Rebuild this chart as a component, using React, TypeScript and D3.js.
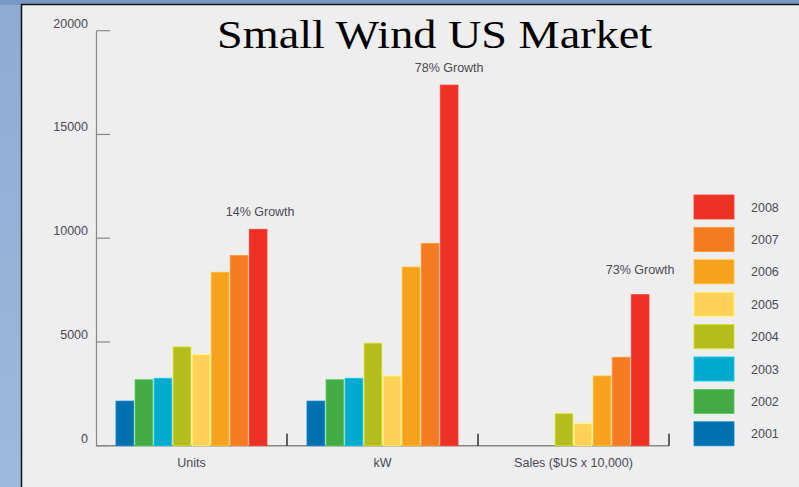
import React from "react";
import * as d3 from "d3";

const categories = ["Units", "kW", "Sales ($US x 10,000)"];
const years = ["2001", "2002", "2003", "2004", "2005", "2006", "2007", "2008"];
const unitsValues = [2150, 3180, 3250, 4760, 4390, 8360, 9160, 10430];
const kwValues = [2150, 3180, 3250, 4940, 3360, 8610, 9750, 17380];
const salesValues = [0, 0, 0, 1540, 1060, 3360, 4260, 7280];
const growthLabels = ["14% Growth", "78% Growth", "73% Growth"];
const yTicks = [0, 5000, 10000, 15000, 20000];
const yearColors = ["#0070ae", "#44aa46", "#00aacc", "#b4bd1c", "#ffd257", "#f6a21e", "#f37b22", "#ee3126"];

const seriesByCategory = [unitsValues, kwValues, salesValues];

export default function App() {
  const W = 799;
  const H = 487;
  const x0 = d3.scaleBand<string>().domain(categories).range([96, 669]).padding(0);
  const x1 = d3.scaleBand<string>().domain(years).range([20, 171]).paddingInner(0.07);
  const y = d3.scaleLinear().domain([0, 20000]).range([445.7, 30.7]);
  const labelOffsets = [13, 13.5, 21];
  const font = "'Liberation Sans', Arial, sans-serif";
  const textColor = "#4b4b55";
  const legendOrder = years.map((yr, i) => i).reverse();

  return (
    <div style={{ position: "fixed", left: 0, top: 0 }}>
      <svg width={W} height={H} style={{ display: "block" }}>
        <defs>
          <linearGradient id="sideGrad" x1="0" y1="0" x2="0" y2="1">
            <stop offset="0" stopColor="#8fabd3" />
            <stop offset="1" stopColor="#9fb9dc" />
          </linearGradient>
        </defs>
        <rect x={0} y={0} width={W} height={H} fill="url(#sideGrad)" />
        <rect x={0} y={0} width={W} height={5} fill="#7898c6" />
        <rect x={21} y={4} width={W - 21} height={H - 4} fill="#eeeeee" />
        <line x1={21.5} y1={4} x2={21.5} y2={H} stroke="#111" strokeWidth={1.5} />
        <line x1={21} y1={4.5} x2={W} y2={4.5} stroke="#111" strokeWidth={1.5} />

        <text
          x={434.5}
          y={48}
          textAnchor="middle"
          fontFamily="'Liberation Serif', 'Times New Roman', serif"
          fontSize={40}
          fill="#000"
          textLength={435}
          lengthAdjust="spacingAndGlyphs"
        >
          Small Wind US Market
        </text>

        {/* Y axis */}
        <line x1={96.5} y1={y(20000)} x2={96.5} y2={y(0)} stroke="#888" strokeWidth={1.2} />
        {yTicks.map((t) => (
          <g key={t}>
            <line x1={96.5} x2={110} y1={y(t)} y2={y(t)} stroke="#888" strokeWidth={1.2} />
            <text x={88} y={y(t) - 3} textAnchor="end" fontFamily={font} fontSize={12.5} fill={textColor}>
              {t}
            </text>
          </g>
        ))}

        {/* X axis */}
        <line x1={96} x2={669} y1={y(0)} y2={y(0)} stroke="#888" strokeWidth={1.4} />
        {categories.map((c) => {
          const xr = (x0(c) as number) + x0.bandwidth();
          return (
            <line key={"tk" + c} x1={xr} x2={xr} y1={y(0)} y2={y(0) - 12} stroke="#222" strokeWidth={1.4} />
          );
        })}

        {/* Bars */}
        {categories.map((c, ci) => (
          <g key={c} transform={`translate(${x0(c)},0)`}>
            {seriesByCategory[ci].map((v, i) =>
              v > 0 ? (
                <rect
                  key={years[i]}
                  x={x1(years[i])}
                  y={y(v)}
                  width={x1.bandwidth()}
                  height={y(0) - y(v)}
                  fill={yearColors[i]}
                  stroke={d3.color(yearColors[i])!.brighter(0.5).formatHex()}
                  strokeWidth={0.8}
                />
              ) : null
            )}
            <text
              x={(x1("2008") as number) + x1.bandwidth() / 2 + (ci === 0 ? 2 : 0)}
              y={y(seriesByCategory[ci][7]) - labelOffsets[ci]}
              textAnchor="middle"
              fontFamily={font}
              fontSize={12.5}
              fill={textColor}
            >
              {growthLabels[ci]}
            </text>
            <text
              x={x0.bandwidth() / 2}
              y={467}
              textAnchor="middle"
              fontFamily={font}
              fontSize={12.5}
              fill={textColor}
            >
              {c}
            </text>
          </g>
        ))}

        {/* Legend */}
        {legendOrder.map((idx, k) => {
          const ly = 195 + k * 32.4;
          return (
            <g key={"lg" + years[idx]}>
              <rect
                x={694}
                y={ly}
                width={40}
                height={24}
                fill={yearColors[idx]}
                stroke={d3.color(yearColors[idx])!.brighter(0.5).formatHex()}
                strokeWidth={0.8}
              />
              <text x={751} y={ly + 16.5} fontFamily={font} fontSize={12.5} fill={textColor}>
                {years[idx]}
              </text>
            </g>
          );
        })}
      </svg>
    </div>
  );
}
